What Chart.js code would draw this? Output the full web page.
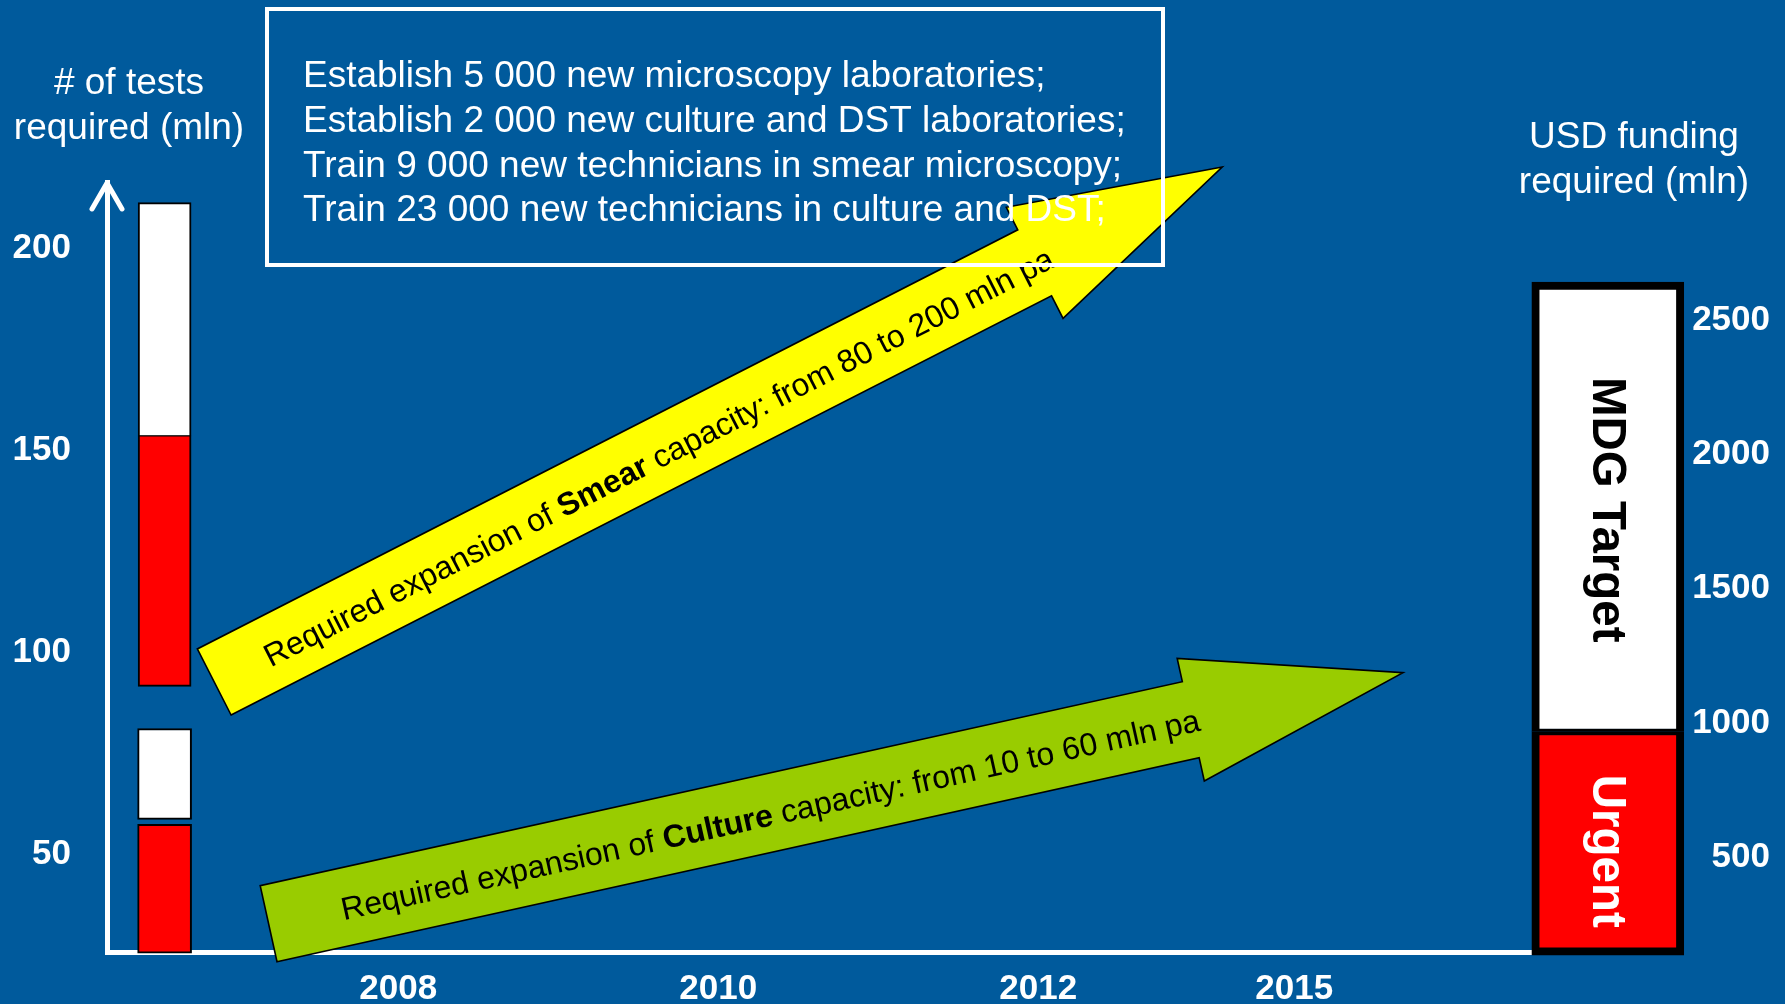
<!DOCTYPE html>
<html>
<head>
<meta charset="utf-8">
<script src="https://cdn.jsdelivr.net/npm/chart.js@4.4.1/dist/chart.umd.min.js"></script>
<style>
  html, body { margin: 0; padding: 0; background: #005A9C; overflow: hidden; }
  #wrap { position: relative; width: 1785px; height: 1004px; }
</style>
</head>
<body>
<div id="wrap"><canvas id="c"></canvas></div>
<script>
// ---------------- data ----------------
const xTickValues = [2008, 2010, 2012, 2013.6];
const xTickLabels = ['2008', '2010', '2012', '2015'];
const yTickValues = [50, 100, 150, 200];
const y2TickValues = [500, 1000, 1500, 2000, 2500];

const testsBarX = 2006.54;    // position of the "# of tests" bars
const fundingBarX = 2015.56;  // position of the funding bar

// floating bars [from, to]
const smearUrgent   = [90.7, 152.7];   // tests (mln)
const smearTarget   = [152.7, 210.4];
const cultureUrgent = [24.7, 56.6];
const cultureTarget = [57.8, 80.3];
const fundingUrgent = [123, 955];      // USD (mln)
const fundingTarget = [955, 2628];

// annotation arrows (x in axis units, y in "# of tests" units)
const smearArrow   = { from: [2006.85, 91.8], to: [2013.15, 219.2] };
const cultureArrow = { from: [2007.19, 32.0], to: [2014.28, 94.1] };

const smearText = [['Required expansion of ', false], ['Smear', true], [' capacity: from 80 to 200 mln pa', false]];
const cultureText = [['Required expansion of ', false], ['Culture', true], [' capacity: from 10 to 60 mln pa', false]];

const boxLines = [
  'Establish 5 000 new microscopy laboratories;',
  'Establish 2 000 new culture and DST laboratories;',
  'Train 9 000 new technicians in smear microscopy;',
  'Train 23 000 new technicians in culture and DST;'
];
const leftTitle = ['# of tests', 'required (mln)'];
const rightTitle = ['USD funding', 'required (mln)'];

// ---------------- styles ----------------
const BG = '#005A9C';
const FONT = "'Liberation Sans', Arial, Helvetica, sans-serif";
const RED = '#FF0000', WHITE = '#FFFFFF', BLACK = '#000000';

function drawArrow(ctx, xs, ys, def, fill, sw, hw, hl, parts, frac, off) {
  const tx = xs.getPixelForValue(def.from[0]), ty = ys.getPixelForValue(def.from[1]);
  const px = xs.getPixelForValue(def.to[0]), py = ys.getPixelForValue(def.to[1]);
  const dx = px - tx, dy = py - ty, L = Math.hypot(dx, dy);
  const ux = dx / L, uy = dy / L, nx = -uy, ny = ux;
  const bx = px - ux * hl, by = py - uy * hl;
  ctx.save();
  ctx.beginPath();
  ctx.moveTo(tx + nx * sw, ty + ny * sw);
  ctx.lineTo(bx + nx * sw, by + ny * sw);
  ctx.lineTo(bx + nx * hw, by + ny * hw);
  ctx.lineTo(px, py);
  ctx.lineTo(bx - nx * hw, by - ny * hw);
  ctx.lineTo(bx - nx * sw, by - ny * sw);
  ctx.lineTo(tx - nx * sw, ty - ny * sw);
  ctx.closePath();
  ctx.fillStyle = fill;
  ctx.fill();
  ctx.lineWidth = 1.6;
  ctx.strokeStyle = BLACK;
  ctx.lineJoin = 'miter';
  ctx.stroke();
  // text
  const cx = tx + ux * L * frac + nx * off, cy = ty + uy * L * frac + ny * off;
  ctx.translate(cx, cy);
  ctx.rotate(Math.atan2(uy, ux));
  ctx.textBaseline = 'middle';
  ctx.textAlign = 'left';
  ctx.fillStyle = BLACK;
  const fonts = parts.map(p => (p[1] ? 'bold ' : '') + '32px ' + FONT);
  let total = 0;
  const widths = parts.map((p, i) => { ctx.font = fonts[i]; const w = ctx.measureText(p[0]).width; total += w; return w; });
  let xpos = -total / 2;
  parts.forEach((p, i) => { ctx.font = fonts[i]; ctx.fillText(p[0], xpos, 0); xpos += widths[i]; });
  ctx.restore();
}

const decor = {
  id: 'decor',
  beforeDraw(chart) {
    const { ctx, width, height } = chart;
    ctx.save();
    ctx.fillStyle = BG;
    ctx.fillRect(0, 0, width, height);
    ctx.restore();
  },
  afterDatasetsDraw(chart) {
    const { ctx, scales: { x, y, y2 }, chartArea } = chart;

    // arrows
    drawArrow(ctx, x, y, smearArrow, '#FFFF00', 37.1, 62.4, 210.6, smearText, 0.44, 4);
    drawArrow(ctx, x, y, cultureArrow, '#99CC00', 38.9, 62.8, 217.4, cultureText, 0.442, 4);

    // labels inside the funding bar
    ctx.save();
    const bx = x.getPixelForValue(fundingBarX);
    ctx.font = 'bold 47.5px ' + FONT;
    ctx.textAlign = 'center';
    ctx.textBaseline = 'middle';
    const drawV = (txt, yy, col) => {
      ctx.save();
      ctx.translate(bx - 2, yy);
      ctx.rotate(Math.PI / 2);
      ctx.fillStyle = col;
      ctx.fillText(txt, 0, 0);
      ctx.restore();
    };
    drawV('MDG Target', (y2.getPixelForValue(fundingTarget[0]) + y2.getPixelForValue(fundingTarget[1])) / 2 + 3, BLACK);
    drawV('Urgent', (y2.getPixelForValue(fundingUrgent[0]) + y2.getPixelForValue(fundingUrgent[1])) / 2 + 8, WHITE);
    ctx.restore();

    // arrowhead on the left axis
    ctx.save();
    const ax = y.right;
    ctx.strokeStyle = WHITE;
    ctx.lineWidth = 5;
    ctx.lineCap = 'round';
    ctx.lineJoin = 'round';
    ctx.beginPath();
    ctx.moveTo(ax - 15, chartArea.top + 27);
    ctx.lineTo(ax, chartArea.top + 1);
    ctx.lineTo(ax + 15, chartArea.top + 27);
    ctx.stroke();
    ctx.restore();

    // text box
    ctx.save();
    ctx.strokeStyle = WHITE;
    ctx.lineWidth = 4;
    ctx.strokeRect(267, 9, 896, 256);
    ctx.fillStyle = WHITE;
    ctx.font = '37px ' + FONT;
    ctx.textAlign = 'left';
    ctx.textBaseline = 'alphabetic';
    boxLines.forEach((t, i) => ctx.fillText(t, 303, 87 + i * 44.8));
    ctx.restore();

    // axis titles
    ctx.save();
    ctx.fillStyle = WHITE;
    ctx.font = '37px ' + FONT;
    ctx.textAlign = 'center';
    ctx.textBaseline = 'alphabetic';
    leftTitle.forEach((t, i) => ctx.fillText(t, 129, 93.5 + i * 45));
    rightTitle.forEach((t, i) => ctx.fillText(t, 1634, 148 + i * 45));
    ctx.restore();
  }
};

const tickFont = { family: FONT, size: 35, weight: 'bold' };
// vertical-axis labels: a tiny line height with an empty first line nudges the digits down a few px
const yTickFont = { family: FONT, size: 35, weight: 'bold', lineHeight: '7px' };
const bar = (label, val, xv, axis, color, bw, thick) => ({
  label, yAxisID: axis,
  data: [{ x: xv, y: val }],
  backgroundColor: color, borderColor: BLACK, borderWidth: bw,
  borderSkipped: false, barThickness: thick, grouped: false, clip: false
});
const noPad = s => { s.paddingTop = 0; s.paddingBottom = 0; };

new Chart(document.getElementById('c'), {
  type: 'bar',
  data: {
    datasets: [
      bar('Smear – urgent', smearUrgent, testsBarX, 'y', RED, { top: 1, left: 2, right: 2, bottom: 2 }, 53),
      bar('Smear – MDG target', smearTarget, testsBarX, 'y', WHITE, { top: 2, left: 2, right: 2, bottom: 1 }, 53),
      bar('Culture – urgent', cultureUrgent, testsBarX, 'y', RED, 2, 54),
      bar('Culture – MDG target', cultureTarget, testsBarX, 'y', WHITE, 2, 54),
      bar('Funding – urgent', fundingUrgent, fundingBarX, 'y2', RED, { top: 4, left: 8, right: 8, bottom: 8 }, 152),
      bar('Funding – MDG target', fundingTarget, fundingBarX, 'y2', WHITE, { top: 8, left: 8, right: 8, bottom: 3 }, 152)
    ]
  },
  options: {
    responsive: true,
    maintainAspectRatio: false,
    animation: false,
    layout: { padding: { top: 182, left: 0, right: 15, bottom: 0 } },
    plugins: { legend: { display: false }, tooltip: { enabled: false } },
    scales: {
      x: {
        type: 'linear', min: 2006.18, max: 2016.03, offset: false,
        grid: { display: false, drawTicks: false },
        border: { display: true, color: WHITE, width: 5 },
        afterBuildTicks: s => { s.ticks = xTickValues.map(v => ({ value: v })); },
        afterFit: s => { s.height = 52; s.paddingLeft = 0; s.paddingRight = 0; },
        ticks: { color: WHITE, font: tickFont, padding: 16.5, maxRotation: 0, autoSkip: false,
                 callback: (v, i) => xTickLabels[i] }
      },
      y: {
        position: 'left', min: 25, max: 215.5,
        grid: { display: false, drawTicks: false },
        border: { display: true, color: WHITE, width: 5 },
        afterBuildTicks: s => { s.ticks = yTickValues.map(v => ({ value: v })); },
        afterFit: s => { s.width = 107; noPad(s); },
        ticks: { color: WHITE, font: yTickFont, padding: 36, callback: v => ['', String(v)] }
      },
      y2: {
        position: 'right', min: 134.5, max: 3000,
        grid: { display: false, drawTicks: false },
        border: { display: false },
        afterBuildTicks: s => { s.ticks = y2TickValues.map(v => ({ value: v })); },
        afterFit: s => { s.width = 87; noPad(s); },
        ticks: { color: WHITE, font: yTickFont, padding: 9, crossAlign: 'far', callback: v => ['', String(v)] }
      }
    }
  },
  plugins: [decor]
});
</script>
</body>
</html>
